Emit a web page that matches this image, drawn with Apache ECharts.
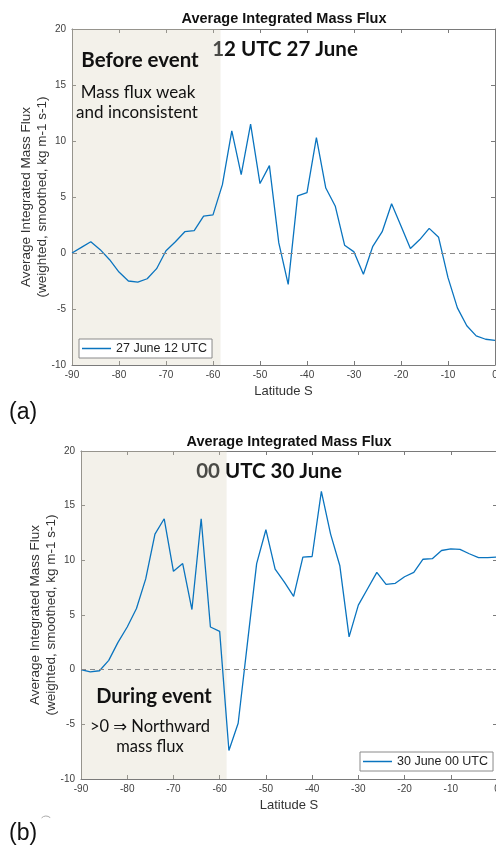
<!DOCTYPE html>
<html>
<head>
<meta charset="utf-8">
<script src="https://cdn.jsdelivr.net/npm/echarts@6/dist/echarts.min.js"></script>
<style>
html,body{margin:0;padding:0;background:#fff;}
#c{width:496px;height:846px;}
</style>
</head>
<body>
<div id="c"></div>
<script>
// ---- data ----
var latitudes = [-90,-88,-86,-84,-82,-80,-78,-76,-74,-72,-70,-68,-66,-64,-62,-60,-58,-56,-54,-52,-50,-48,-46,-44,-42,-40,-38,-36,-34,-32,-30,-28,-26,-24,-22,-20,-18,-16,-14,-12,-10,-8,-6,-4,-2,0];
var flux27June12 = [0,0.5,1.0,0.3,-0.6,-1.7,-2.5,-2.6,-2.3,-1.4,0.2,1.0,1.9,2.0,3.3,3.4,6.1,10.9,7.0,11.5,6.2,7.8,0.9,-2.8,5.1,5.4,10.3,5.8,4.2,0.7,0.1,-1.9,0.6,1.9,4.4,2.4,0.4,1.2,2.2,1.4,-2.2,-4.9,-6.5,-7.4,-7.7,-7.8];
var flux30June00 = [0,-0.2,-0.1,0.85,2.5,3.9,5.6,8.3,12.4,13.8,9.0,9.7,5.5,13.8,3.9,3.5,-7.4,-4.9,2.4,9.7,12.8,9.2,8.0,6.7,10.3,10.35,16.3,12.4,9.5,3.0,5.9,7.4,8.9,7.8,7.9,8.5,8.9,10.1,10.15,10.9,11.05,11.0,10.6,10.25,10.25,10.3];
var seriesNames = ['27 June 12 UTC','30 June 00 UTC'];
var xTicks = {min:-90, max:0, interval:10};
var yTicks = {min:-10, max:20, interval:5};
var shadeRanges = [[-90,-58.4],[-90,-58.5]];

// ---- chart ----
var chart = echarts.init(document.getElementById('c'), null, {renderer:'canvas'});
var blue = '#0a74bf';
var axisCol = '#7a7a7a';
var sansFont = 'Liberation Sans, Arial, sans-serif';

function pairs(vals){ return latitudes.map(function(l,i){return [l, vals[i]];}); }

function xAx(gi, pos){
  return {type:'value', gridIndex:gi, position:pos, min:xTicks.min, max:xTicks.max, interval:xTicks.interval,
    axisLine:{show:true, onZero:false, lineStyle:{color:axisCol, width:1}},
    axisTick:{show:true, inside:true, length:4, lineStyle:{color:axisCol}},
    axisLabel:{show:pos==='bottom', margin:5, color:'#404040', fontSize:10, fontFamily:sansFont},
    splitLine:{show:false},
    name: pos==='bottom' ? 'Latitude S' : '', nameLocation:'middle', nameGap:20, nameMoveOverlap:false,
    nameTextStyle:{color:'#333', fontSize:13, fontFamily:sansFont}};
}
function yAx(gi, pos){
  return {type:'value', gridIndex:gi, position:pos, min:yTicks.min, max:yTicks.max, interval:yTicks.interval,
    axisLine:{show:true, onZero:false, lineStyle:{color:axisCol, width:1}},
    axisTick:{show:true, inside:true, length:4, lineStyle:{color:axisCol}},
    axisLabel:{show:pos==='left', margin:6, color:'#404040', fontSize:10, fontFamily:sansFont},
    splitLine:{show:false},
    name: pos==='left' ? 'Average Integrated Mass Flux\n(weighted, smoothed, kg m-1 s-1)' : '',
    nameLocation:'middle', nameGap:22, nameRotate:90, nameMoveOverlap:false,
    nameTextStyle:{color:'#333', fontSize:13.5, lineHeight:15.5, fontFamily:sansFont}};
}

var zeroLine = {silent:true, symbol:'none', label:{show:false},
  lineStyle:{type:[5,4], color:'#8a8a8a', width:1}, data:[{yAxis:0}]};

function shadeSeries(idx, xi, yi){
  return {type:'line', xAxisIndex:xi, yAxisIndex:yi, data:[], z:5, silent:true,
    markArea:{silent:true, itemStyle:{color:'rgba(214,210,186,0.3)'},
      data:[[{xAxis:shadeRanges[idx][0]},{xAxis:shadeRanges[idx][1]}]]}};
}

function legendCfg(name, left, top){
  return {data:[name], left:left, top:top, icon:'rect', itemWidth:29, itemHeight:1.5, itemGap:4,
    padding:[3,5,3,3], borderColor:'#8a8a8a', borderWidth:1, borderRadius:0, backgroundColor:'#fff',
    textStyle:{fontSize:12.5, color:'#222', fontFamily:sansFont}};
}

var calFont = 'Lato, "Open Sans", "DejaVu Sans", sans-serif';
function txt(x, y, s, size, bold){
  return {type:'text', x:x, y:y, z:10, style:{text:s, textAlign:'center', textVerticalAlign:'middle',
    font:(bold?'bold ':'') + size + 'px ' + calFont, fill:'#111'}};
}
function richTxt(x, y, grayPart, blackPart, size){
  return {type:'text', x:x, y:y, z:10, style:{text:'{g|'+grayPart+'}{k|'+blackPart+'}', textAlign:'center', textVerticalAlign:'middle',
    font:'bold ' + size + 'px ' + calFont, fill:'#111',
    rich:{g:{fill:'#4a4a46', font:'bold ' + size + 'px ' + calFont}, k:{fill:'#111', font:'bold ' + size + 'px ' + calFont}}}};
}

var option = {
  animation:false,
  backgroundColor:'#fff',
  title:[
    {text:'Average Integrated Mass Flux', left:279, top:6, textAlign:'center',
      textStyle:{fontSize:14.5, fontWeight:'bold', color:'#111', fontFamily:sansFont}},
    {text:'Average Integrated Mass Flux', left:284, top:429, textAlign:'center',
      textStyle:{fontSize:14.5, fontWeight:'bold', color:'#111', fontFamily:sansFont}}
  ],
  grid:[
    {left:72, top:29, width:423, height:336, outerBoundsMode:'none', containLabel:false},
    {left:81, top:451, width:416, height:328, outerBoundsMode:'none', containLabel:false}
  ],
  xAxis:[xAx(0,'bottom'), xAx(0,'top'), xAx(1,'bottom'), xAx(1,'top')],
  yAxis:[yAx(0,'left'), yAx(0,'right'), yAx(1,'left'), yAx(1,'right')],
  legend:[legendCfg(seriesNames[0], 79, 339), legendCfg(seriesNames[1], 360, 752)],
  series:[
    {name:seriesNames[0], type:'line', xAxisIndex:0, yAxisIndex:0, data:pairs(flux27June12),
      symbol:'none', z:3, lineStyle:{color:blue, width:1.3}, itemStyle:{color:blue}, markLine:zeroLine},
    shadeSeries(0,0,0),
    {name:seriesNames[1], type:'line', xAxisIndex:2, yAxisIndex:2, data:pairs(flux30June00),
      symbol:'none', z:3, lineStyle:{color:blue, width:1.3}, itemStyle:{color:blue}, markLine:zeroLine},
    shadeSeries(1,2,2)
  ],
  graphic:[
    richTxt(285, 49, '1', '2 UTC 27 June', 20.5),
    txt(140, 60, 'Before event', 20.5, true),
    txt(138, 93, 'Mass flux weak', 17, false),
    txt(137, 113, 'and inconsistent', 17, false),
    richTxt(269, 471, '00', ' UTC 30 June', 20.5),
    txt(154, 697, 'During event', 20, true),
    txt(150, 727, '>0 \u21D2 Northward', 16.5, false),
    txt(150, 747, 'mass flux', 16.5, false),
    {type:'text', x:9, y:413, z:10, style:{text:'(a)', textAlign:'left', textVerticalAlign:'middle',
      font:'23px "Liberation Sans", Arial, sans-serif', fill:'#111'}},
    {type:'text', x:9, y:834, z:10, style:{text:'(b)', textAlign:'left', textVerticalAlign:'middle',
      font:'23px "Liberation Sans", Arial, sans-serif', fill:'#111'}},
    {type:'arc', z:10, shape:{cx:46, cy:822, r:6, startAngle:-2.4, endAngle:-0.75},
      style:{stroke:'#aaa', fill:null, lineWidth:1}}
  ]
};
chart.setOption(option);
</script>
</body>
</html>
